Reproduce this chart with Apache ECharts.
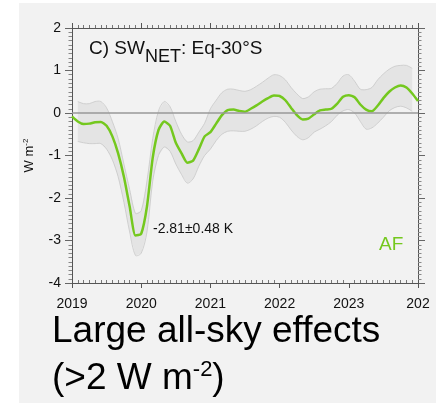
<!DOCTYPE html>
<html>
<head>
<meta charset="utf-8">
<script src="https://cdn.jsdelivr.net/npm/echarts@6/dist/echarts.min.js"></script>
<style>
html, body { margin: 0; padding: 0; background: #fff; }
#chart { width: 436px; height: 405px; }
</style>
</head>
<body>
<div id="chart"></div>
<script>
// monthly values, starting Jan 2019
var startYear = 2019;
var yearLabels = ['2019', '2020', '2021', '2022', '2023', '202'];

// central estimate, W m-2 (61 months, 2019.0 .. 2024.0)
var swNet = [
	-0.08, -0.20, -0.26, -0.25, -0.22, -0.21, -0.30, -0.55, -0.95, -1.50, -2.20, -2.88,
	-2.84, -2.20, -1.05, -0.40, -0.20, -0.30, -0.70, -0.95, -1.17, -1.12, -0.85, -0.55,
	-0.45, -0.25, -0.05, 0.07, 0.08, 0.05, 0.03, 0.10, 0.18, 0.27, 0.35, 0.41,
	0.40, 0.30, 0.12, -0.05, -0.15, -0.13, -0.03, 0.06, 0.08, 0.10, 0.22, 0.38,
	0.42, 0.37, 0.20, 0.08, 0.04, 0.17, 0.35, 0.50, 0.60, 0.65, 0.60, 0.46,
	0.28
];

// uncertainty band, months 1 .. 59
var bandUpper = [
	0.27, 0.22, 0.22, 0.27, 0.27, 0.12, -0.20, -0.60, -1.20, -1.80, -2.36,
	-2.30, -1.60, -0.60, 0.05, 0.27, 0.15, -0.20, -0.50, -0.68, -0.65, -0.45, -0.24,
	0.10, 0.30, 0.48, 0.56, 0.56, 0.53, 0.51, 0.55, 0.63, 0.72, 0.82, 0.90,
	0.88, 0.78, 0.60, 0.45, 0.34, 0.38, 0.50, 0.56, 0.57, 0.58, 0.70, 0.87,
	0.90, 0.75, 0.56, 0.55, 0.60, 0.78, 0.92, 1.03, 1.10, 1.12, 1.12, 1.05
];
var bandLower = [
	-0.67, -0.70, -0.72, -0.72, -0.72, -0.85, -1.10, -1.50, -2.10, -2.80, -3.35,
	-3.30, -2.80, -1.60, -1.00, -0.80, -0.90, -1.20, -1.45, -1.65, -1.55, -1.25, -1.00,
	-0.85, -0.65, -0.50, -0.43, -0.42, -0.43, -0.43, -0.38, -0.30, -0.20, -0.12, -0.08,
	-0.10, -0.22, -0.40, -0.55, -0.63, -0.58, -0.45, -0.38, -0.30, -0.20, -0.05, 0.05,
	0.08, 0.00, -0.20, -0.38, -0.35, -0.24, -0.10, 0.05, 0.13, 0.16, 0.12, 0.04
];

var FONT = 'Liberation Sans';
var GREEN = '#74c81e';

var lineData = [];
for (var i = 0; i < swNet.length; i++) {
	lineData.push([startYear + i / 12, swNet[i]]);
}

// band polygon: upper edge left->right, lower edge right->left
function renderBand(params, api) {
	var upper = [], lower = [];
	for (var j = 0; j < bandUpper.length; j++) {
		var t = startYear + (j + 1) / 12;
		upper.push(api.coord([t, bandUpper[j]]));
		lower.push(api.coord([t, bandLower[j]]));
	}
	return {
		type: 'group',
		children: [{
			type: 'polygon',
			shape: { points: upper.concat(lower.slice().reverse()) },
			style: { fill: '#e4e4e4', stroke: null }
		}, {
			type: 'polyline',
			shape: { points: upper, smooth: 0.3 },
			style: { fill: null, stroke: '#c8c8c8', lineWidth: 0.8 }
		}, {
			type: 'polyline',
			shape: { points: lower, smooth: 0.3 },
			style: { fill: null, stroke: '#c8c8c8', lineWidth: 0.8 }
		}]
	};
}

var myChart = echarts.init(document.getElementById('chart'));
var option = {
	animation: false,
	title: {
		left: 84,
		top: 34,
		text: '{a|C) SW}{b|NET}{a|: Eq-30°S}',
		textStyle: {
			rich: {
				a: { fontSize: 19, fontFamily: FONT, fontWeight: 'normal', color: '#111', lineHeight: 22, verticalAlign: 'top' },
				b: { fontSize: 18, fontFamily: FONT, fontWeight: 'normal', color: '#111', lineHeight: 22, verticalAlign: 'top', padding: [9, 0, 0, 0] }
			}
		}
	},
	grid: { left: 72, right: 18, top: 28, bottom: 122 },
	xAxis: [{
		type: 'value', min: 2019, max: 2024, interval: 1, position: 'bottom',
		axisLine: { show: true, onZero: false, lineStyle: { color: '#555', width: 1 } },
		axisTick: { show: true, length: 5, lineStyle: { color: '#555' } },
		axisLabel: {
			margin: 14, fontSize: 14, fontFamily: FONT, color: '#111',
			formatter: function (v) { return yearLabels[Math.round(v) - startYear]; }
		},
		splitLine: { show: false }
	}, {
		// minor ticks pointing into the plot
		type: 'value', min: 2019, max: 2024, interval: 1, position: 'bottom',
		axisLine: { show: false, onZero: false },
		axisTick: { show: false, inside: true },
		minorTick: { show: true, splitNumber: 12, length: 3, lineStyle: { color: '#777' } },
		axisLabel: { show: false },
		splitLine: { show: false }
	}, {
		type: 'value', min: 2019, max: 2024, interval: 1, position: 'top',
		axisLine: { show: true, onZero: false, lineStyle: { color: '#555', width: 1 } },
		axisTick: { show: true, length: 5, lineStyle: { color: '#555' } },
		minorTick: { show: true, splitNumber: 12, length: 3, lineStyle: { color: '#777' } },
		axisLabel: { show: false },
		splitLine: { show: false }
	}],
	yAxis: [{
		type: 'value', min: -4, max: 2, interval: 1, position: 'left',
		axisLine: { show: true, onZero: false, lineStyle: { color: '#555', width: 1 } },
		axisTick: { show: true, length: 7, lineStyle: { color: '#666' } },
		minorTick: { show: true, splitNumber: 10, length: 3.5, lineStyle: { color: '#888' } },
		axisLabel: { margin: 11, fontSize: 14, fontFamily: FONT, color: '#111' },
		splitLine: { show: false },
		name: 'W m{s|-2}',
		nameLocation: 'middle',
		nameGap: 36,
		nameTextStyle: {
			fontSize: 13, fontFamily: FONT, color: '#111', verticalAlign: 'bottom',
			rich: {
				s: { fontSize: 8, fontFamily: FONT, color: '#111', verticalAlign: 'bottom', padding: [0, 0, 6, 0] }
			}
		}
	}, {
		type: 'value', min: -4, max: 2, interval: 1, position: 'right',
		axisLine: { show: true, onZero: false, lineStyle: { color: '#555', width: 1 } },
		axisTick: { show: true, length: 7, lineStyle: { color: '#666' } },
		minorTick: { show: true, splitNumber: 10, length: 3.5, lineStyle: { color: '#888' } },
		axisLabel: { show: false },
		splitLine: { show: false }
	}],
	series: [{
		name: 'zero',
		type: 'line',
		z: 1,
		data: [],
		markLine: {
			silent: true,
			symbol: 'none',
			label: { show: false },
			lineStyle: { color: '#999', width: 1.5, type: 'solid' },
			data: [{ yAxis: 0 }]
		}
	}, {
		name: 'band',
		type: 'custom',
		z: 2,
		silent: true,
		renderItem: renderBand,
		data: [[startYear, 0]]
	}, {
		name: 'AF',
		type: 'line',
		z: 3,
		smooth: 0.2,
		symbol: 'none',
		lineStyle: { color: GREEN, width: 2.5 },
		data: lineData
	}],
	graphic: [{
		type: 'rect', z: -10, silent: true,
		shape: { x: 19, y: 3, width: 417, height: 400 },
		style: { fill: '#f2f2f2' }
	}, {
		type: 'text', left: 153, top: 222,
		style: { text: '-2.81±0.48 K', font: '14px "Liberation Sans"', fill: '#111' }
	}, {
		type: 'text', left: 379, top: 235,
		style: { text: 'AF', font: '19px "Liberation Sans"', fill: GREEN }
	}, {
		type: 'text', left: 52, top: 313,
		style: { text: 'Large all-sky effects', font: '37px "Liberation Sans"', fill: '#000' }
	}, {
		type: 'text', left: 52, top: 359,
		style: {
			text: '{m|(>2 W m}{s|-2}{m|)}',
			rich: {
				m: { fontSize: 37, fontFamily: FONT, fill: '#000', lineHeight: 40, verticalAlign: 'bottom' },
				s: { fontSize: 22, fontFamily: FONT, fill: '#000', lineHeight: 24, verticalAlign: 'bottom', padding: [0, 0, 16, 0] }
			}
		}
	}]
};
myChart.setOption(option);
</script>
</body>
</html>
